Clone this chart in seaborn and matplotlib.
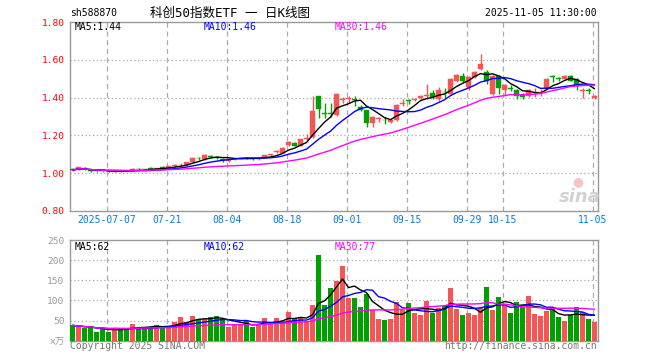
import numpy as np
import pandas as pd
import matplotlib
matplotlib.use("Agg")
import matplotlib.pyplot as plt
import seaborn as sns

# ---------------- data ----------------
tick_idx = [6, 16, 26, 36, 46, 56, 66, 72, 87]
tick_labels = ["2025-07-07", "07-21", "08-04", "08-18", "09-01", "09-15", "09-29", "10-15", "11-05"]

open_ = [1.020, 1.017, 1.030, 1.015, 1.012, 1.012, 1.011, 1.008, 1.012, 1.012,
         1.012, 1.022, 1.022, 1.026, 1.022, 1.032, 1.030, 1.038, 1.043, 1.045,
         1.058, 1.082, 1.075, 1.092, 1.088, 1.075, 1.062, 1.074, 1.077, 1.082,
         1.080, 1.073, 1.082, 1.097, 1.110, 1.108, 1.149, 1.160, 1.145, 1.182,
         1.190, 1.407, 1.318, 1.318, 1.310, 1.388, 1.393, 1.392, 1.350, 1.333,
         1.266, 1.288, 1.283, 1.272, 1.280, 1.368, 1.388, 1.385, 1.397, 1.408,
         1.425, 1.390, 1.432, 1.420, 1.490, 1.515, 1.456, 1.510, 1.550, 1.535,
         1.420, 1.515, 1.440, 1.452, 1.440, 1.415, 1.410, 1.428, 1.428, 1.447,
         1.512, 1.502, 1.500, 1.515, 1.500, 1.435, 1.440, 1.398]
close = [1.015, 1.032, 1.020, 1.010, 1.010, 1.010, 1.009, 1.012, 1.010, 1.011,
         1.020, 1.020, 1.020, 1.024, 1.028, 1.030, 1.036, 1.042, 1.046, 1.058,
         1.082, 1.078, 1.097, 1.088, 1.080, 1.072, 1.073, 1.077, 1.083, 1.080,
         1.077, 1.077, 1.094, 1.101, 1.115, 1.135, 1.166, 1.145, 1.180, 1.186,
         1.328, 1.342, 1.314, 1.314, 1.420, 1.392, 1.397, 1.388, 1.333, 1.266,
         1.300, 1.292, 1.279, 1.280, 1.360, 1.372, 1.383, 1.395, 1.410, 1.412,
         1.405, 1.440, 1.428, 1.500, 1.520, 1.490, 1.510, 1.535, 1.580, 1.490,
         1.515, 1.453, 1.465, 1.448, 1.410, 1.405, 1.440, 1.432, 1.432, 1.500,
         1.508, 1.498, 1.515, 1.490, 1.460, 1.438, 1.435, 1.410]
high = [1.025, 1.035, 1.033, 1.018, 1.014, 1.014, 1.013, 1.014, 1.014, 1.014,
        1.025, 1.025, 1.024, 1.032, 1.030, 1.036, 1.038, 1.047, 1.052, 1.060,
        1.085, 1.088, 1.100, 1.098, 1.090, 1.080, 1.076, 1.080, 1.086, 1.088,
        1.083, 1.080, 1.096, 1.104, 1.125, 1.138, 1.168, 1.163, 1.183, 1.205,
        1.407, 1.410, 1.370, 1.370, 1.425, 1.405, 1.410, 1.410, 1.360, 1.335,
        1.305, 1.300, 1.300, 1.283, 1.365, 1.395, 1.395, 1.400, 1.413, 1.470,
        1.440, 1.455, 1.450, 1.505, 1.525, 1.530, 1.515, 1.540, 1.630, 1.545,
        1.520, 1.520, 1.470, 1.465, 1.445, 1.425, 1.445, 1.450, 1.445, 1.505,
        1.520, 1.510, 1.518, 1.520, 1.505, 1.450, 1.450, 1.415]
low = [1.010, 1.015, 1.018, 1.008, 1.007, 1.008, 1.007, 1.006, 1.008, 1.009,
       1.010, 1.015, 1.016, 1.018, 1.020, 1.025, 1.028, 1.035, 1.040, 1.043,
       1.055, 1.072, 1.072, 1.082, 1.075, 1.058, 1.060, 1.070, 1.075, 1.073,
       1.072, 1.070, 1.080, 1.093, 1.105, 1.105, 1.146, 1.142, 1.143, 1.170,
       1.188, 1.290, 1.290, 1.300, 1.305, 1.370, 1.370, 1.355, 1.328, 1.245,
       1.245, 1.270, 1.260, 1.265, 1.275, 1.355, 1.365, 1.380, 1.390, 1.390,
       1.395, 1.380, 1.400, 1.415, 1.480, 1.480, 1.440, 1.505, 1.545, 1.470,
       1.415, 1.420, 1.410, 1.435, 1.390, 1.390, 1.405, 1.405, 1.410, 1.445,
       1.480, 1.490, 1.497, 1.488, 1.440, 1.400, 1.420, 1.390]
volume = [38, 35, 32, 32, 22, 30, 22, 32, 29, 29, 41, 31, 35, 35, 38, 35, 35, 46, 58, 47,
          61, 53, 53, 58, 61, 53, 34, 38, 41, 49,
          33, 41, 56, 45, 56, 48, 71, 56, 58, 49, 88, 212, 88, 131, 149, 186, 106, 106, 83, 116,
          76, 53, 51, 53, 96, 76, 93, 68, 63, 98,
          68, 81, 87, 131, 78, 63, 68, 63, 81, 133, 76, 108, 88, 68, 96, 83, 111, 66, 61, 73,
          78, 58, 48, 63, 83, 71, 53, 46]

price_ticks = [0.80, 1.00, 1.20, 1.40, 1.60, 1.80]
vol_ticks = [0, 50, 100, 150, 200, 250]
vol_tick_labels = ["x万", "50", "100", "150", "200", "250"]
ma_price_labels = ["MA5:1.44", "MA10:1.46", "MA30:1.46"]
ma_vol_labels = ["MA5:62", "MA10:62", "MA30:77"]

# ---------------- styling ----------------
sns.set_theme(style="white")
MONO = ["DejaVu Sans Mono", "Noto Sans CJK SC"]
plt.rcParams["font.family"] = MONO
RED = "#f55555"
GREEN = "#00a000"
GRID = "#aaaaaa"
FRAME = "#999999"
MA_COLORS = ["black", "#0000ff", "#ff00ff"]

df = pd.DataFrame({"i": np.arange(len(close)), "open": open_, "close": close,
                   "high": high, "low": low, "vol": volume})
for n, name in zip([5, 10, 30], ["ma5", "ma10", "ma30"]):
    df[name] = df["close"].rolling(n, min_periods=1).mean()
    df["v" + name] = df["vol"].rolling(n, min_periods=1).mean()
up = df["close"] >= df["open"]
colors = np.where(up, RED, GREEN)

W, H = 660, 360
fig = plt.figure(figsize=(W / 100, H / 100), dpi=100)
L, R = 70, 597.7
ax1 = fig.add_axes([L / W, 1 - 211 / H, (R - L) / W, 189 / H])
ax2 = fig.add_axes([L / W, 1 - 340.7 / H, (R - L) / W, 100.7 / H])

xlim = (-2.5 / 6, (R - 72.5) / 6)
grid_x = [t - 0.3 for t in tick_idx]

for ax in (ax1, ax2):
    ax.set_xlim(*xlim)
    for s in ax.spines.values():
        s.set_color(FRAME)
        s.set_linewidth(1.0)
    for gx in grid_x:
        ax.axvline(gx, color=GRID, lw=0.9, ls=(0, (4, 3)), zorder=1)
    ax.tick_params(length=0)
    ax.set_xlabel("")
    ax.set_ylabel("")

# price panel
ax1.set_ylim(0.80, 1.80)
for yv in price_ticks[1:-1]:
    ax1.axhline(yv, color=GRID, lw=0.9, ls=(0, (1, 2)), zorder=1)
ax1.vlines(df["i"], df["low"], df["high"], colors=colors, lw=1.0, zorder=3)
body = (df["close"] - df["open"]).abs().clip(lower=0.003)
ax1.bar(df["i"], body, bottom=np.minimum(df["open"], df["close"]), width=0.8,
        color=colors, edgecolor=colors, linewidth=0.3, zorder=4)
for name, c in zip(["ma5", "ma10", "ma30"], MA_COLORS):
    sns.lineplot(data=df, x="i", y=name, color=c, lw=1.0, ax=ax1, zorder=5)
ax1.set_yticks(price_ticks)
ax1.set_yticklabels([f"{v:.2f}" for v in price_ticks], color="#ff0000", fontsize=6.8)
ax1.set_xticks(grid_x)
ax1.set_xticklabels(tick_labels, color="#0a7ad2", fontsize=7)
ax1.tick_params(axis="y", pad=4)
ax1.tick_params(axis="x", pad=3)
ax1.set_xlabel("")
ax1.set_ylabel("")

# volume panel
ax2.set_ylim(0, 250)
for yv in vol_ticks[1:-1]:
    ax2.axhline(yv, color=GRID, lw=0.9, ls=(0, (1, 2)), zorder=1)
ax2.bar(df["i"], df["vol"], width=0.83, color=colors, linewidth=0, zorder=3)
for name, c in zip(["vma5", "vma10", "vma30"], MA_COLORS):
    sns.lineplot(data=df, x="i", y=name, color=c, lw=1.0, ax=ax2, zorder=5)
ax2.set_yticks(vol_ticks)
ax2.set_yticklabels(vol_tick_labels, color="#999999", fontsize=6.8)
ax2.tick_params(axis="y", pad=4)
ax2.set_xticks([])
ax2.set_xlabel("")
ax2.set_ylabel("")


def ftext(x, y, s, **kw):
    fig.text(x / W, 1 - y / H, s, **kw)


# headers
ftext(70, 13, "sh588870", fontsize=7, color="black", va="center", ha="left")
ftext(230, 13, "科创50指数ETF 一 日K线图", fontsize=9, color="black", va="center", ha="center")
ftext(597, 13, "2025-11-05 11:30:00", fontsize=7, color="black", va="center", ha="right")

# MA labels
for x, s, c in zip([75, 204, 335], ma_price_labels, MA_COLORS):
    ftext(x, 27, s, fontsize=7, color=c, va="center", ha="left")
for x, s, c in zip([75, 204, 335], ma_vol_labels, MA_COLORS):
    ftext(x, 246.5, s, fontsize=7, color=c, va="center", ha="left")

# footer
ftext(70, 346, "Copyright 2025 SINA.COM", fontsize=7, color="#777777", va="center", ha="left")
ftext(597, 346, "http://finance.sina.com.cn", fontsize=7, color="#777777", va="center", ha="right")

# watermark
ftext(578, 182, "●", fontsize=9, color="#f6c4c4", va="center", ha="center", family="DejaVu Sans")
ftext(580, 197, "sina", fontsize=13, color="#d2d2d2", va="center", ha="center",
      fontweight="bold", style="italic", family="DejaVu Sans")

fig.savefig("out.png", dpi=100)
